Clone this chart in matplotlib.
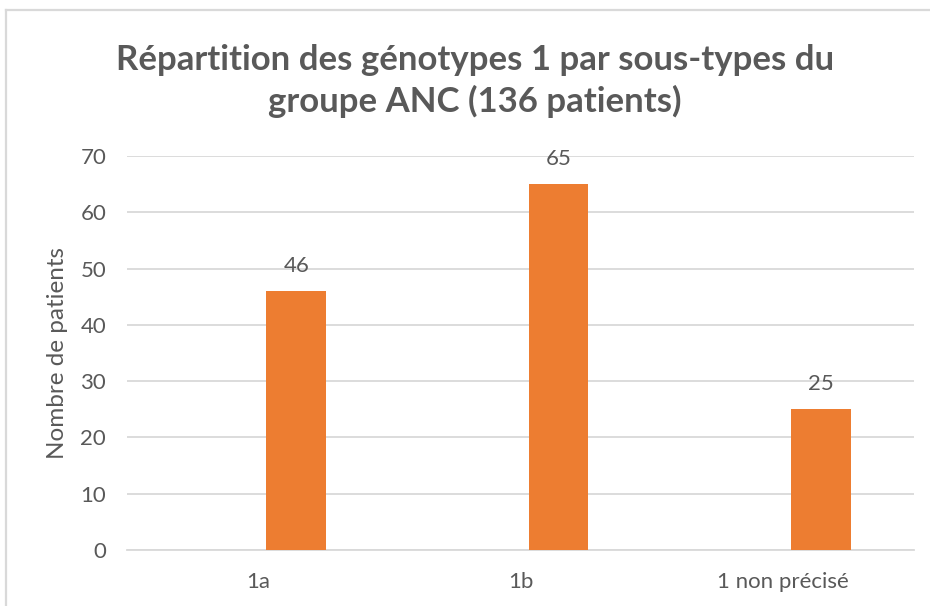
import matplotlib
matplotlib.use("Agg")
import matplotlib.pyplot as plt
import numpy as np
from matplotlib.lines import Line2D

categories = ["1a", "1b", "1 non précisé"]
patients = [46, 65, 25]
yticks = [0, 10, 20, 30, 40, 50, 60, 70]

title = "Répartition des génotypes 1 par sous-types du\ngroupe ANC (136 patients)"
ylabel = "Nombre de patients"

GRAY = "#595959"
ORANGE = "#ED7D31"
GRID = "#D9D9D9"

plt.rcParams["font.family"] = ["Lato", "DejaVu Sans"]

fig = plt.figure(figsize=(9.3, 6.06), dpi=100)
ax = fig.add_axes([127 / 930, 1 - 550 / 606, 787 / 930, 394 / 606])

x = np.arange(len(categories))
offset = 0.145  # bars sit right of category centre (empty companion series)
bars = ax.bar(x + offset, patients, width=0.227, color=ORANGE, zorder=3)

for b, v in zip(bars, patients):
    ax.annotate(str(v), (b.get_x() + b.get_width() / 2, v), xytext=(0, 11),
                textcoords="offset points", ha="center", va="bottom",
                fontsize=16, color=GRAY)

ax.set_xlim(-0.5, len(categories) - 0.5)
ax.set_ylim(0, 70)
ax.set_yticks(yticks)
ax.set_xticks(x)
ax.set_xticklabels(categories)
ax.yaxis.grid(True, color=GRID, lw=1.3, zorder=0)
ax.set_axisbelow(True)
for s in ("top", "right", "left"):
    ax.spines[s].set_visible(False)
ax.spines["bottom"].set_color(GRID)
ax.spines["bottom"].set_linewidth(1.3)
ax.tick_params(axis="both", length=0, labelsize=16, labelcolor=GRAY)
ax.tick_params(axis="y", pad=15)
ax.tick_params(axis="x", pad=16)
ax.set_ylabel(ylabel, fontsize=17.5, color=GRAY)
ax.yaxis.set_label_coords((57 - 127) / 787, 0.5)
ax.yaxis.label.set_va("center")

fig.text(475 / 930, 1 - 81 / 606, title, ha="center", va="center",
         fontsize=25, fontweight="bold", color=GRAY, linespacing=1.3)

# chart-area border (top and left edges visible)
fig.add_artist(Line2D([6 / 930, 6 / 930], [0, 1 - 10 / 606], transform=fig.transFigure,
                      color="#D9D9D9", lw=1.6))
fig.add_artist(Line2D([6 / 930, 1], [1 - 10 / 606, 1 - 10 / 606], transform=fig.transFigure,
                      color="#D9D9D9", lw=1.6))

fig.savefig("out.png", dpi=100)
